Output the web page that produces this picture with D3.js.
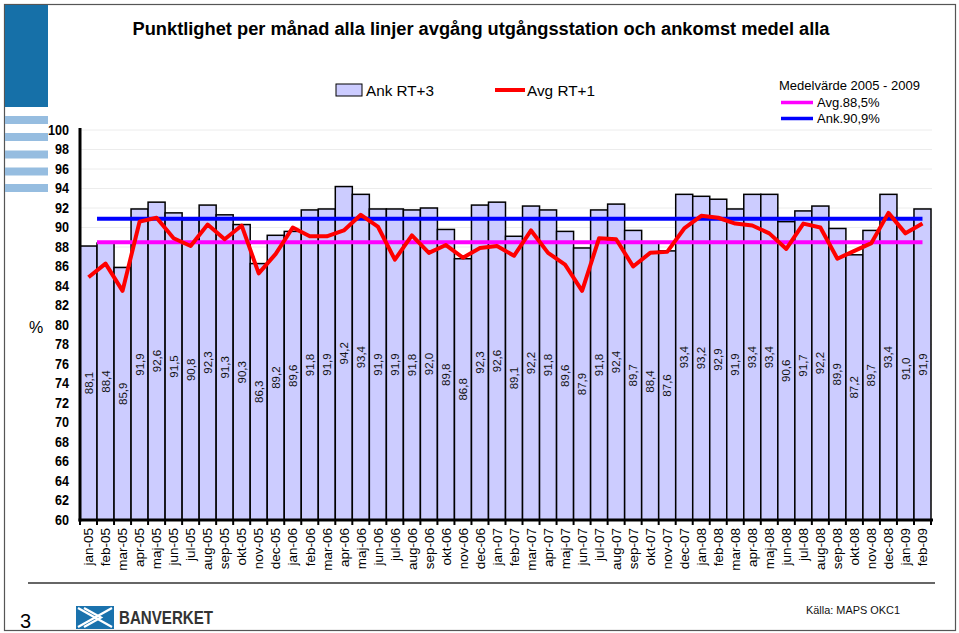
<!DOCTYPE html>
<html><head><meta charset="utf-8">
<script src="https://cdn.jsdelivr.net/npm/d3@7"></script>
<style>body{margin:0;background:#fff;}svg{display:block;font-family:"Liberation Sans",Arial,sans-serif;}</style>
</head><body>
<script>
const months = ["jan-05","feb-05","mar-05","apr-05","maj-05","jun-05","jul-05","aug-05","sep-05","okt-05","nov-05","dec-05",
"jan-06","feb-06","mar-06","apr-06","maj-06","jun-06","jul-06","aug-06","sep-06","okt-06","nov-06","dec-06",
"jan-07","feb-07","mar-07","apr-07","maj-07","jun-07","jul-07","aug-07","sep-07","okt-07","nov-07","dec-07",
"jan-08","feb-08","mar-08","apr-08","maj-08","jun-08","jul-08","aug-08","sep-08","okt-08","nov-08","dec-08",
"jan-09","feb-09"];
const ankRT3 = [88.1,88.4,85.9,91.9,92.6,91.5,90.8,92.3,91.3,90.3,86.3,89.2,
89.6,91.8,91.9,94.2,93.4,91.9,91.9,91.8,92.0,89.8,86.8,92.3,
92.6,89.1,92.2,91.8,89.6,87.9,91.8,92.4,89.7,88.4,87.6,93.4,
93.2,92.9,91.9,93.4,93.4,90.6,91.7,92.2,89.9,87.2,89.7,93.4,
91.0,91.9];
const avgRT1 = [84.9,86.3,83.5,90.6,91.0,88.9,88.1,90.3,88.8,90.2,85.3,87.3,
90.0,89.1,89.1,89.7,91.3,90.1,86.7,89.2,87.4,88.2,86.9,87.9,
88.1,87.1,89.7,87.4,86.2,83.5,88.9,88.8,86.0,87.4,87.5,89.9,
91.2,91.0,90.4,90.2,89.4,87.8,90.4,90.0,86.8,87.6,88.4,91.5,
89.4,90.4];
const avgMean = 88.5;
const ankMean = 90.9;
const yTicks = [60,62,64,66,68,70,72,74,76,78,80,82,84,86,88,90,92,94,96,98,100];
const titleText = "Punktlighet per månad alla linjer avgång utgångsstation och ankomst medel alla";
const seriesNames = ["Ank RT+3","Avg RT+1"];
const meanTitle = "Medelvärde 2005 - 2009";
const meanNames = ["Avg.88,5%","Ank.90,9%"];

const W=959,H=633;
const svg=d3.select("body").append("svg").attr("width",W).attr("height",H);

// frame & decoration
svg.append("rect").attr("x",4.5).attr("y",4.5).attr("width",951).attr("height",626).attr("fill","#fff").attr("stroke","#555").attr("stroke-width",1.2);
svg.append("rect").attr("x",5).attr("y",5).attr("width",43).attr("height",102).attr("fill","#1670a8");
[116,133,150.5,167.5,184].forEach(y=>svg.append("rect").attr("x",5).attr("y",y).attr("width",43).attr("height",8).attr("fill","#96bde0"));

const x=d3.scaleBand().domain(months).range([80,931]).padding(0);
const y=d3.scaleLinear().domain([60,100]).range([520,130]);

// title
svg.append("text").attr("x",481).attr("y",35).attr("text-anchor","middle").attr("font-size",18).attr("font-weight","bold")
 .attr("textLength",697).attr("lengthAdjust","spacingAndGlyphs").text(titleText);

// gridlines
svg.append("g").selectAll("line").data(yTicks.filter(t=>t>60)).join("line")
 .attr("x1",80).attr("x2",932).attr("y1",d=>y(d)).attr("y2",d=>y(d)).attr("stroke","#ececec").attr("stroke-width",1);

// bars
svg.append("g").selectAll("rect").data(ankRT3).join("rect")
 .attr("x",(d,i)=>x(months[i])).attr("y",d=>y(d)).attr("width",x.bandwidth()).attr("height",d=>y(60)-y(d))
 .attr("fill","#ccccff").attr("stroke","#000").attr("stroke-width",1.5);

// mean lines
const lx1=x(months[1]), lx2=x(months[months.length-1])+x.bandwidth()/2;
svg.append("line").attr("x1",lx1).attr("x2",lx2).attr("y1",y(ankMean)).attr("y2",y(ankMean)).attr("stroke","#0000ff").attr("stroke-width",4);
svg.append("line").attr("x1",lx1).attr("x2",lx2).attr("y1",y(avgMean)).attr("y2",y(avgMean)).attr("stroke","#ff00ff").attr("stroke-width",4);

// red line
const line=d3.line().x((d,i)=>x(months[i])+x.bandwidth()/2).y(d=>y(d));
svg.append("path").datum(avgRT1).attr("d",line).attr("fill","none").attr("stroke","#ff0000").attr("stroke-width",4).attr("stroke-linejoin","round");

// bar value labels
svg.append("g").selectAll("text").data(ankRT3).join("text")
 .attr("transform",(d,i)=>`translate(${x(months[i])+x.bandwidth()/2},${(y(d)+y(60))/2}) rotate(-90)`)
 .attr("text-anchor","middle").attr("dy","0.35em").attr("font-size",11.5).attr("fill","#111")
 .text(d=>d.toFixed(1).replace(".",","));

// axes
const yAxis=d3.axisLeft(y).tickValues(yTicks).tickSize(0).tickPadding(11);
const gy=svg.append("g").attr("transform","translate(80,0)").call(yAxis);
gy.select(".domain").remove();
gy.selectAll("text").attr("font-size",14).attr("font-weight","bold").attr("font-family","Liberation Sans, Arial, sans-serif").attr("fill","#000")
 .attr("textLength",d=>d>=100?21:14).attr("lengthAdjust","spacingAndGlyphs");
svg.append("line").attr("x1",80).attr("x2",80).attr("y1",128).attr("y2",521.5).attr("stroke","#000").attr("stroke-width",3);

const xAxis=d3.axisBottom(x).tickSize(0).tickFormat(d=>d);
const gx=svg.append("g").attr("transform","translate(0,520)").call(xAxis);
gx.select(".domain").remove();
gx.selectAll("text").attr("font-size",13.5).attr("font-family","Liberation Sans, Arial, sans-serif").attr("fill","#000")
 .attr("text-anchor","end").attr("y",0).attr("dy","0.35em").attr("transform","translate(0,8) rotate(-90)");
svg.append("line").attr("x1",78.5).attr("x2",933).attr("y1",520).attr("y2",520).attr("stroke","#000").attr("stroke-width",3);
const bounds=months.map(m=>x(m)).concat([x(months[months.length-1])+x.bandwidth()]);
svg.append("g").selectAll("line").data(bounds).join("line")
 .attr("x1",d=>d).attr("x2",d=>d).attr("y1",520).attr("y2",525).attr("stroke","#000").attr("stroke-width",2);

svg.append("text").attr("x",36).attr("y",333).attr("text-anchor","middle").attr("font-size",16).text("%");

// legend
svg.append("rect").attr("x",336).attr("y",84).attr("width",26).attr("height",12).attr("fill","#ccccff").attr("stroke","#000").attr("stroke-width",1);
svg.append("text").attr("x",366).attr("y",96).attr("font-size",15.5).attr("textLength",68).attr("lengthAdjust","spacingAndGlyphs").text(seriesNames[0]);
svg.append("line").attr("x1",495).attr("x2",525).attr("y1",90).attr("y2",90).attr("stroke","#ff0000").attr("stroke-width",4);
svg.append("text").attr("x",527).attr("y",96).attr("font-size",15.5).attr("textLength",68).attr("lengthAdjust","spacingAndGlyphs").text(seriesNames[1]);

svg.append("text").attr("x",779).attr("y",89.5).attr("font-size",13).text(meanTitle);
svg.append("line").attr("x1",781).attr("x2",813).attr("y1",102.5).attr("y2",102.5).attr("stroke","#ff00ff").attr("stroke-width",3.5);
svg.append("text").attr("x",817).attr("y",107).attr("font-size",13).text(meanNames[0]);
svg.append("line").attr("x1",781).attr("x2",813).attr("y1",118.5).attr("y2",118.5).attr("stroke","#0000ff").attr("stroke-width",3.5);
svg.append("text").attr("x",817).attr("y",123).attr("font-size",13).text(meanNames[1]);

// footer
svg.append("line").attr("x1",28).attr("x2",935).attr("y1",583).attr("y2",583).attr("stroke","#333").attr("stroke-width",1.5);
svg.append("text").attr("x",20).attr("y",628).attr("font-size",20).text("3");
const lg=svg.append("g").attr("transform","translate(76,606)");
lg.append("rect").attr("width",38).attr("height",23).attr("fill","#1a72ad");
lg.append("path").attr("d","M2,2 L19,11.5 L2,21 M8,2 L25,11.5 L8,21 M19,11.5 L36,2 M19,11.5 L36,21").attr("fill","none").attr("stroke","#fff").attr("stroke-width",2.2);
svg.append("text").attr("x",119).attr("y",624).attr("font-size",19).attr("font-weight","bold").attr("fill","#333")
 .attr("textLength",94).attr("lengthAdjust","spacingAndGlyphs").text("BANVERKET");
svg.append("text").attr("x",806).attr("y",614).attr("font-size",11.5).attr("fill","#111")
 .attr("textLength",94).attr("lengthAdjust","spacingAndGlyphs").text("Källa: MAPS OKC1");
</script>
</body></html>
